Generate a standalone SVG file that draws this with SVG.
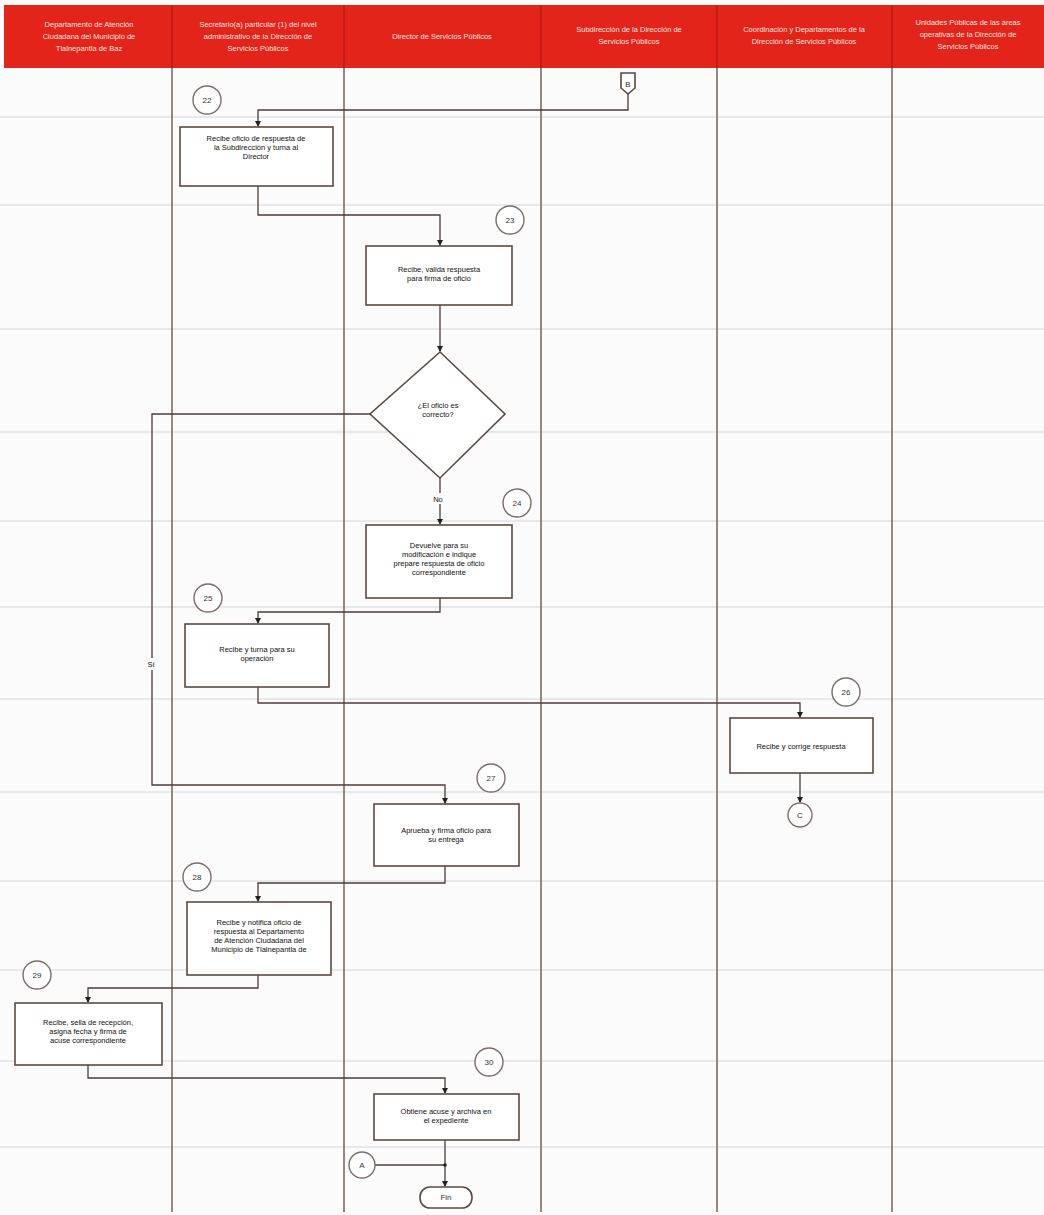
<svg xmlns="http://www.w3.org/2000/svg" width="1044" height="1215" viewBox="0 0 1044 1215">
<defs>
<marker id="arr" markerWidth="6" markerHeight="6" refX="5" refY="3" orient="auto" markerUnits="userSpaceOnUse">
<path d="M0,0 L6,3 L0,6 Z" fill="#222"/>
</marker>
<style>
.hdr{font-family:"Liberation Sans",Arial,sans-serif;font-size:7.5px;fill:#fbe3df;text-anchor:middle}
.t{font-family:"Liberation Sans",Arial,sans-serif;font-size:7.5px;fill:#111;text-anchor:middle}
.n{font-family:"Liberation Sans",Arial,sans-serif;font-size:8px;fill:#333;text-anchor:middle}
.box{fill:#fff;stroke:#5a4a44;stroke-width:1.6}
.circ{fill:#fff;stroke:#7a6e6a;stroke-width:1.4}
.lane{stroke:#6b5650;stroke-width:1.4}
.row{stroke:#d6d8da;stroke-width:1.2}
.c{fill:none;stroke:#4a3d38;stroke-width:1.3}
</style>
</defs>
<rect width="1044" height="1215" fill="#fbfbfb"/>
<g id="grid">
<line class="row" x1="0" y1="117" x2="1044" y2="117"/>
<line class="row" x1="0" y1="205" x2="1044" y2="205"/>
<line class="row" x1="0" y1="329" x2="1044" y2="329"/>
<line class="row" x1="0" y1="432" x2="1044" y2="432"/>
<line class="row" x1="0" y1="521" x2="1044" y2="521"/>
<line class="row" x1="0" y1="607" x2="1044" y2="607"/>
<line class="row" x1="0" y1="699" x2="1044" y2="699"/>
<line class="row" x1="0" y1="792" x2="1044" y2="792"/>
<line class="row" x1="0" y1="881" x2="1044" y2="881"/>
<line class="row" x1="0" y1="970" x2="1044" y2="970"/>
<line class="row" x1="0" y1="1061" x2="1044" y2="1061"/>
<line class="row" x1="0" y1="1147" x2="1044" y2="1147"/>
<line class="lane" x1="172" y1="68" x2="172" y2="1212"/>
<line class="lane" x1="344" y1="68" x2="344" y2="1212"/>
<line class="lane" x1="541" y1="68" x2="541" y2="1212"/>
<line class="lane" x1="717" y1="68" x2="717" y2="1212"/>
<line class="lane" x1="892" y1="68" x2="892" y2="1212"/>
</g>
<g id="header">
<rect x="4" y="5" width="1040" height="63" fill="#e3241b"/>
<g stroke="#b01810" stroke-width="1.2">
<line x1="172" y1="5" x2="172" y2="68"/>
<line x1="344" y1="5" x2="344" y2="68"/>
<line x1="541" y1="5" x2="541" y2="68"/>
<line x1="717" y1="5" x2="717" y2="68"/>
<line x1="892" y1="5" x2="892" y2="68"/>
</g>
<text class="hdr" x="89" y="27">Departamento de Atención</text>
<text class="hdr" x="89" y="39">Ciudadana del Municipio de</text>
<text class="hdr" x="89" y="51">Tlalnepantla de Baz</text>
<text class="hdr" x="258" y="27">Secretario(a) particular (1) del nivel</text>
<text class="hdr" x="258" y="39">administrativo de la Dirección de</text>
<text class="hdr" x="258" y="51">Servicios Públicos</text>
<text class="hdr" x="442" y="39">Director de Servicios Públicos</text>
<text class="hdr" x="629" y="32">Subdirección de la Dirección de</text>
<text class="hdr" x="629" y="44">Servicios Públicos</text>
<text class="hdr" x="804" y="32">Coordinación y Departamentos de la</text>
<text class="hdr" x="804" y="44">Dirección de Servicios Públicos</text>
<text class="hdr" x="968" y="25">Unidades Públicas de las áreas</text>
<text class="hdr" x="968" y="37">operativas de la Dirección de</text>
<text class="hdr" x="968" y="49">Servicios Públicos</text>
</g>
<g id="connectors">
<polyline class="c" points="628,92 628,110 258,110 258,126" marker-end="url(#arr)"/>
<polyline class="c" points="258,186 258,215 440,215 440,245" marker-end="url(#arr)"/>
<polyline class="c" points="440,305 440,351" marker-end="url(#arr)"/>
<polyline class="c" points="370,414 152,414 152,785 445,785 445,803" marker-end="url(#arr)"/>
<polyline class="c" points="440,478 440,524" marker-end="url(#arr)"/>
<polyline class="c" points="440,598 440,612 258,612 258,623" marker-end="url(#arr)"/>
<polyline class="c" points="258,687 258,703 800,703 800,717" marker-end="url(#arr)"/>
<polyline class="c" points="800,773 800,802" marker-end="url(#arr)"/>
<polyline class="c" points="445,866 445,883 258,883 258,901" marker-end="url(#arr)"/>
<polyline class="c" points="258,975 258,988 88,988 88,1002" marker-end="url(#arr)"/>
<polyline class="c" points="88,1065 88,1078 445,1078 445,1093" marker-end="url(#arr)"/>
<polyline class="c" points="445,1140 445,1186" marker-end="url(#arr)"/>
<polyline class="c" points="375,1165 445,1165"/>
<circle cx="445" cy="1165" r="1.8" fill="#222"/>
<rect x="144" y="658" width="14" height="12" fill="#fbfbfb"/>
<text class="t" x="151" y="667">Sí</text>
<rect x="430" y="493" width="18" height="11" fill="#fbfbfb"/>
<text class="t" x="438" y="502">No</text>
</g>
<g id="conB">
<path d="M621,73 H635 V88 L628,94 L621,88 Z" class="box"/>
<text class="n" x="628" y="87">B</text>
</g>
<g id="n22">
<circle class="circ" cx="207" cy="100" r="14"/>
<text class="n" x="207" y="103">22</text>
<rect class="box" x="180" y="127" width="153" height="59"/>
<text class="t" x="256" y="141">Recibe oficio de respuesta de</text>
<text class="t" x="256" y="150">la Subdirección y turna al</text>
<text class="t" x="256" y="159">Director</text>
</g>
<g id="n23">
<circle class="circ" cx="510" cy="220" r="14"/>
<text class="n" x="510" y="223">23</text>
<rect class="box" x="366" y="246" width="146" height="59"/>
<text class="t" x="439" y="272">Recibe, valida respuesta</text>
<text class="t" x="439" y="281">para firma de oficio</text>
</g>
<g id="dec">
<polygon class="box" points="440,352 505,414 440,478 370,414"/>
<text class="t" x="438" y="408">¿El oficio es</text>
<text class="t" x="438" y="417">correcto?</text>
</g>
<g id="n24">
<circle class="circ" cx="517" cy="503" r="14"/>
<text class="n" x="517" y="506">24</text>
<rect class="box" x="366" y="525" width="146" height="73"/>
<text class="t" x="439" y="548">Devuelve para su</text>
<text class="t" x="439" y="557">modificación e indique</text>
<text class="t" x="439" y="566">prepare respuesta de oficio</text>
<text class="t" x="439" y="575">correspondiente</text>
</g>
<g id="n25">
<circle class="circ" cx="208" cy="598" r="14"/>
<text class="n" x="208" y="601">25</text>
<rect class="box" x="185" y="624" width="144" height="63"/>
<text class="t" x="257" y="652">Recibe y turna para su</text>
<text class="t" x="257" y="661">operación</text>
</g>
<g id="n26">
<circle class="circ" cx="846" cy="692" r="14"/>
<text class="n" x="846" y="695">26</text>
<rect class="box" x="730" y="718" width="143" height="55"/>
<text class="t" x="801" y="749">Recibe y corrige respuesta</text>
</g>
<g id="conC">
<circle class="circ" cx="800" cy="815" r="12"/>
<text class="n" x="800" y="818">C</text>
</g>
<g id="n27">
<circle class="circ" cx="491" cy="778" r="14"/>
<text class="n" x="491" y="781">27</text>
<rect class="box" x="374" y="804" width="145" height="62"/>
<text class="t" x="446" y="833">Aprueba y firma oficio para</text>
<text class="t" x="446" y="842">su entrega</text>
</g>
<g id="n28">
<circle class="circ" cx="197" cy="877" r="14"/>
<text class="n" x="197" y="880">28</text>
<rect class="box" x="187" y="902" width="144" height="73"/>
<text class="t" x="259" y="925">Recibe y notifica oficio de</text>
<text class="t" x="259" y="934">respuesta al Departamento</text>
<text class="t" x="259" y="943">de Atención Ciudadana del</text>
<text class="t" x="259" y="952">Municipio de Tlalnepantla de</text>
</g>
<g id="n29">
<circle class="circ" cx="37" cy="975" r="14"/>
<text class="n" x="37" y="978">29</text>
<rect class="box" x="15" y="1003" width="147" height="62"/>
<text class="t" x="88" y="1025">Recibe, sella de recepción,</text>
<text class="t" x="88" y="1034">asigna fecha y firma de</text>
<text class="t" x="88" y="1043">acuse correspondiente</text>
</g>
<g id="n30">
<circle class="circ" cx="489" cy="1062" r="14"/>
<text class="n" x="489" y="1065">30</text>
<rect class="box" x="374" y="1094" width="145" height="46"/>
<text class="t" x="446" y="1114">Obtiene acuse y archiva en</text>
<text class="t" x="446" y="1123">el expediente</text>
</g>
<g id="conA">
<circle class="circ" cx="362" cy="1165" r="13"/>
<text class="n" x="362" y="1168">A</text>
</g>
<g id="fin">
<rect class="box" x="420" y="1187" width="52" height="21" rx="10"/>
<text class="n" x="446" y="1200">Fin</text>
</g>
</svg>
